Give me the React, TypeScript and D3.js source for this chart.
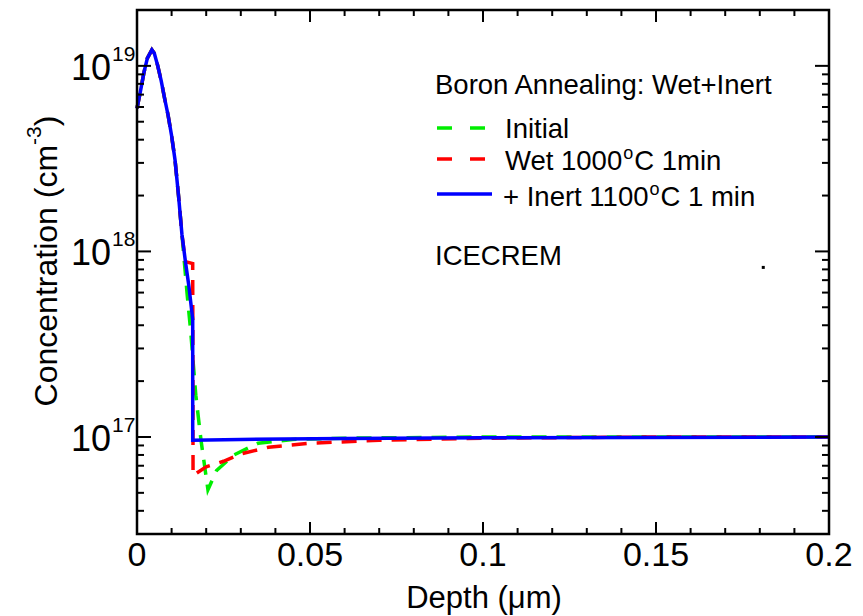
import React from "react";
import * as d3 from "d3";

const commonX = [0, 0.001, 0.002, 0.003, 0.0043, 0.005, 0.006, 0.007, 0.008, 0.009, 0.010, 0.011, 0.012, 0.013];
const commonY = [5.9e18, 7.3e18, 9.2e18, 1.1e19, 1.22e19, 1.17e19, 1.0e19, 8.3e18, 6.65e18, 5.4e18, 4.2e18, 3.1e18, 2.0e18, 1.23e18];

const initialX = [...commonX, 0.0135, 0.0145, 0.0155, 0.017, 0.0185, 0.0205, 0.023, 0.028, 0.035, 0.045, 0.06, 0.1, 0.2];
const initialY = [...commonY, 9.6e17, 5.85e17, 3.75e17, 1.68e17, 9.6e16, 5.2e16, 6.6e16, 8.0e16, 9.25e16, 9.7e16, 9.85e16, 1e17, 1e17];

const wetX = [...commonX, 0.014, 0.0161, 0.0162, 0.020, 0.025, 0.03, 0.038, 0.05, 0.07, 0.1, 0.15, 0.2];
const wetY = [...commonY, 8.8e17, 8.6e17, 6.2e16, 6.9e16, 7.4e16, 8.1e16, 8.8e16, 9.25e16, 9.6e16, 9.85e16, 1e17, 1e17];

const inertX = [...commonX, 0.014, 0.015, 0.0161, 0.0161, 0.03, 0.06, 0.1, 0.2];
const inertY = [...commonY, 8.8e17, 6.5e17, 4.3e17, 9.6e16, 9.7e16, 9.8e16, 9.9e16, 1e17];

const dotX = [0.181];
const dotY = [8.2e17];

const xTickLabels = ["0", "0.05", "0.1", "0.15", "0.2"];
const xTickValues = [0, 0.05, 0.1, 0.15, 0.2];
const yTickExponents = [17, 18, 19];

const legendTitle = "Boron Annealing: Wet+Inert";
const simulatorLabel = "ICECREM";

const W = 863, H = 616;
const L = 137, R = 829, T = 10, B = 534;
const FONT = "'Liberation Sans', Arial, Helvetica, sans-serif";

export default function App() {
  const x = d3.scaleLinear().domain([0, 0.2]).range([L, R]);
  const y = d3.scaleLog().domain([3e16, 2e19]).range([B, T]);
  const line = (xs: number[], ys: number[]) =>
    d3.line<number>().x((_, i) => x(xs[i])).y((d) => y(d))(ys) || "";

  const minorX = d3.range(0, 0.2001, 0.01);
  const minorY: number[] = [];
  for (let e = 16; e <= 19; e++) for (let k = 1; k <= 9; k++) {
    const v = k * Math.pow(10, e);
    if (v >= 3e16 && v <= 2e19) minorY.push(v);
  }

  const green = "#00ee00", red = "#ff0000", blue = "#0000ff";
  const sw = 3.5;
  const LF = 27.5;

  return (
    <svg width={W} height={H} style={{ position: "absolute", left: 0, top: 0, background: "#fff" }} fontFamily={FONT}>
      <rect x={0} y={0} width={W} height={H} fill="#fff" />
      <g>
        <path d={line(initialX, initialY)} fill="none" stroke={green} strokeWidth={sw} strokeDasharray="15,10" />
        <path d={line(wetX, wetY)} fill="none" stroke={red} strokeWidth={sw} strokeDasharray="15,10" />
        <path d={line(inertX, inertY)} fill="none" stroke={blue} strokeWidth={sw} />
        {dotX.map((d, i) => (
          <rect key={i} x={x(d) - 1.5} y={y(dotY[i]) - 1.5} width={3} height={3} fill="#000" />
        ))}
      </g>
      <g stroke="#000" strokeWidth={2}>
        {minorX.map((v, i) => {
          const major = Math.abs((v / 0.05) - Math.round(v / 0.05)) < 1e-6;
          const len = major ? 12 : 6;
          return (
            <g key={i}>
              <line x1={x(v)} x2={x(v)} y1={B} y2={B - len} />
              <line x1={x(v)} x2={x(v)} y1={T} y2={T + len} />
            </g>
          );
        })}
        {minorY.map((v, i) => {
          const major = Math.abs(Math.log10(v) - Math.round(Math.log10(v))) < 1e-6;
          const len = major ? 14 : 7;
          return (
            <g key={i}>
              <line x1={L} x2={L + len} y1={y(v)} y2={y(v)} />
              <line x1={R} x2={R - len} y1={y(v)} y2={y(v)} />
            </g>
          );
        })}
      </g>
      <rect x={L} y={T} width={R - L} height={B - T} fill="none" stroke="#000" strokeWidth={2.5} />
      {xTickValues.map((v, i) => (
        <text key={i} x={x(v)} y={566} textAnchor="middle" fontSize={34}>{xTickLabels[i]}</text>
      ))}
      {yTickExponents.map((e) => (
        <text key={e} x={111} y={y(Math.pow(10, e)) + 14} textAnchor="end" fontSize={36}>
          10
        </text>
      ))}
      {yTickExponents.map((e) => (
        <text key={"s" + e} x={112} y={y(Math.pow(10, e)) - 5} textAnchor="start" fontSize={21}>
          {e}
        </text>
      ))}
      <text x={484} y={608} textAnchor="middle" fontSize={31}>Depth (μm)</text>
      <text transform={`translate(57,${261}) rotate(-90)`} textAnchor="middle" fontSize={32}>
        Concentration (cm<tspan dy={-16} fontSize={21}>-3</tspan><tspan dy={16}>)</tspan>
      </text>
      <text x={435} y={94} fontSize={LF}>{legendTitle}</text>
      <line x1={437} x2={490} y1={128} y2={128} stroke={green} strokeWidth={sw} strokeDasharray="15,18" />
      <text x={505} y={138} fontSize={LF}>Initial</text>
      <line x1={437} x2={490} y1={159} y2={159} stroke={red} strokeWidth={sw} strokeDasharray="15,18" />
      <text x={505} y={170} fontSize={LF}>Wet 1000<tspan dx={1} dy={-11} fontSize={18}>o</tspan><tspan dx={1} dy={11}>C 1min</tspan></text>
      <line x1={437} x2={492} y1={194} y2={194} stroke={blue} strokeWidth={sw} />
      <text x={503} y={206} fontSize={LF}>+ Inert 1100<tspan dx={1} dy={-11} fontSize={18}>o</tspan><tspan dx={1} dy={11}>C 1 min</tspan></text>
      <text x={435} y={265} fontSize={LF}>{simulatorLabel}</text>
    </svg>
  );
}
